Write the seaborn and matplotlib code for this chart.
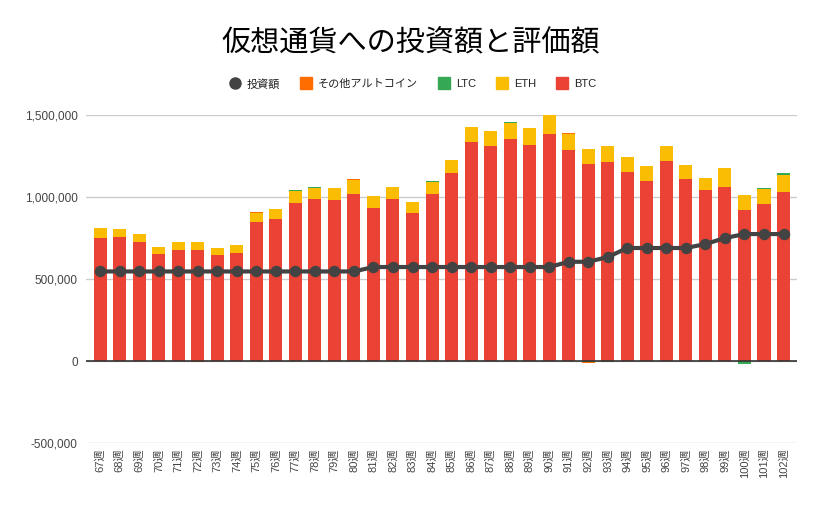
import numpy as np
import pandas as pd
import matplotlib
matplotlib.use("Agg")
import matplotlib.pyplot as plt
from matplotlib.lines import Line2D
import seaborn as sns

# ---- data (values in yen) ----
weeks = [f"{w}週" for w in range(67, 103)]
btc = [752, 758, 727, 654, 679, 679, 648, 660, 850, 868, 965, 990, 984, 1020,
       935, 990, 904, 1020, 1148, 1337, 1313, 1356, 1319, 1386, 1289, 1203,
       1215, 1155, 1100, 1221, 1112, 1045, 1062, 923, 960, 1033]
eth = [61, 49, 49, 43, 48, 48, 43, 49, 54, 61, 73, 66, 73, 85, 73, 72, 68, 73,
       79, 91, 91, 97, 104, 112, 97, 92, 98, 91, 91, 92, 85, 73, 117, 91, 91, 103]
ltc = [0, 0, 0, 0, 0, 0, 0, 0, 0, 0, 6, 6, 0, 0, 0, 0, 0, 6,
       0, 0, 0, 6, 0, 0, 0, -5, -5, 0, 0, 0, 0, 0, 0, -16, 6, 12]
other = [0, 0, 0, 0, 0, -6, 0, 0, 6, 0, 0, 0, 0, 6, 0, 0, 0, 0,
         0, 0, 0, 0, 0, 0, 6, -5, 0, 0, 0, 0, 0, 0, 0, 0, 0, 0]
invest = [546, 546, 546, 546, 546, 546, 546, 546, 546, 546, 546, 546, 546, 546,
          573, 573, 573, 573, 573, 573, 573, 573, 573, 573, 605, 605, 634,
          689, 689, 689, 689, 713, 750, 774, 774, 774]
yticks = [-500000, 0, 500000, 1000000, 1500000]

btc_a = np.array(btc) * 1000.0
eth_a = np.array(eth) * 1000.0
ltc_a = np.array(ltc) * 1000.0
oth_a = np.array(other) * 1000.0
inv_a = np.array(invest) * 1000.0

C_BTC, C_ETH, C_LTC, C_OTH, C_LINE = "#EA4335", "#FBBC04", "#34A853", "#FF6D01", "#434343"

sns.set_theme(style="white")
plt.rcParams["font.family"] = ["Liberation Sans", "Noto Sans CJK JP", "DejaVu Sans"]

fig = plt.figure(figsize=(8.22, 5.08), dpi=100)
ax = fig.add_axes([86 / 822, 1 - 443 / 508, (797 - 86) / 822, (443 - 115) / 508])

# stacked positive totals (drawn from top layer down)
pos = lambda a: np.clip(a, 0, None)
neg = lambda a: np.clip(a, None, 0)
t_eth = btc_a + eth_a
t_ltc = t_eth + pos(ltc_a)
t_oth = t_ltc + pos(oth_a)
n_ltc = neg(ltc_a)
n_oth = n_ltc + neg(oth_a)

layers = [(t_oth, C_OTH), (t_ltc, C_LTC), (t_eth, C_ETH), (btc_a, C_BTC),
          (n_oth, C_OTH), (n_ltc, C_LTC)]
for vals, col in layers:
    sns.barplot(x=weeks, y=vals, color=col, saturation=1, width=0.667,
                linewidth=0, errorbar=None, ax=ax, order=weeks)

sns.pointplot(x=weeks, y=inv_a, color=C_LINE, order=weeks, markers="o",
              markersize=6.0, linewidth=3, errorbar=None, ax=ax)

ax.set_ylim(-500000, 1500000)
ax.set_xlim(-0.72, 35.69)
ax.set_yticks(yticks)
ax.set_yticklabels([f"{v:,}" for v in yticks], fontsize=8.5, color="#444444")
ax.set_xticks(range(len(weeks)))
ax.set_xticklabels(weeks, rotation=90, fontsize=8, color="#444444")
ax.tick_params(axis="y", length=0, pad=6)
ax.tick_params(axis="x", length=0, pad=4)
ax.set_xlabel("")
ax.set_ylabel("")
ax.set_axisbelow(True)
ax.yaxis.grid(True, color="#cccccc", linewidth=1)
ax.xaxis.grid(False)
for s in ax.spines.values():
    s.set_visible(False)
ax.axhline(0, color="#333333", linewidth=1.2, zorder=2.5)

fig.text(0.5, 1 - 43 / 508, "仮想通貨への投資額と評価額", ha="center", va="center",
         fontsize=21, color="#000000", family=["Noto Sans CJK JP"])

handles = [
    Line2D([], [], marker="o", color=C_LINE, linestyle="none", markersize=8),
    Line2D([], [], marker="s", color=C_OTH, linestyle="none", markersize=8),
    Line2D([], [], marker="s", color=C_LTC, linestyle="none", markersize=8),
    Line2D([], [], marker="s", color=C_ETH, linestyle="none", markersize=8),
    Line2D([], [], marker="s", color=C_BTC, linestyle="none", markersize=8),
]
labels = ["投資額", "その他アルトコイン", "LTC", "ETH", "BTC"]
leg = fig.legend(handles, labels, loc="center", bbox_to_anchor=(0.502, 1 - 84 / 508),
                 ncol=5, frameon=False, fontsize=8, handlelength=1.0,
                 handletextpad=0.6, columnspacing=1.8)
for t in leg.get_texts():
    t.set_color("#222222")

fig.savefig("out.png", dpi=100)
